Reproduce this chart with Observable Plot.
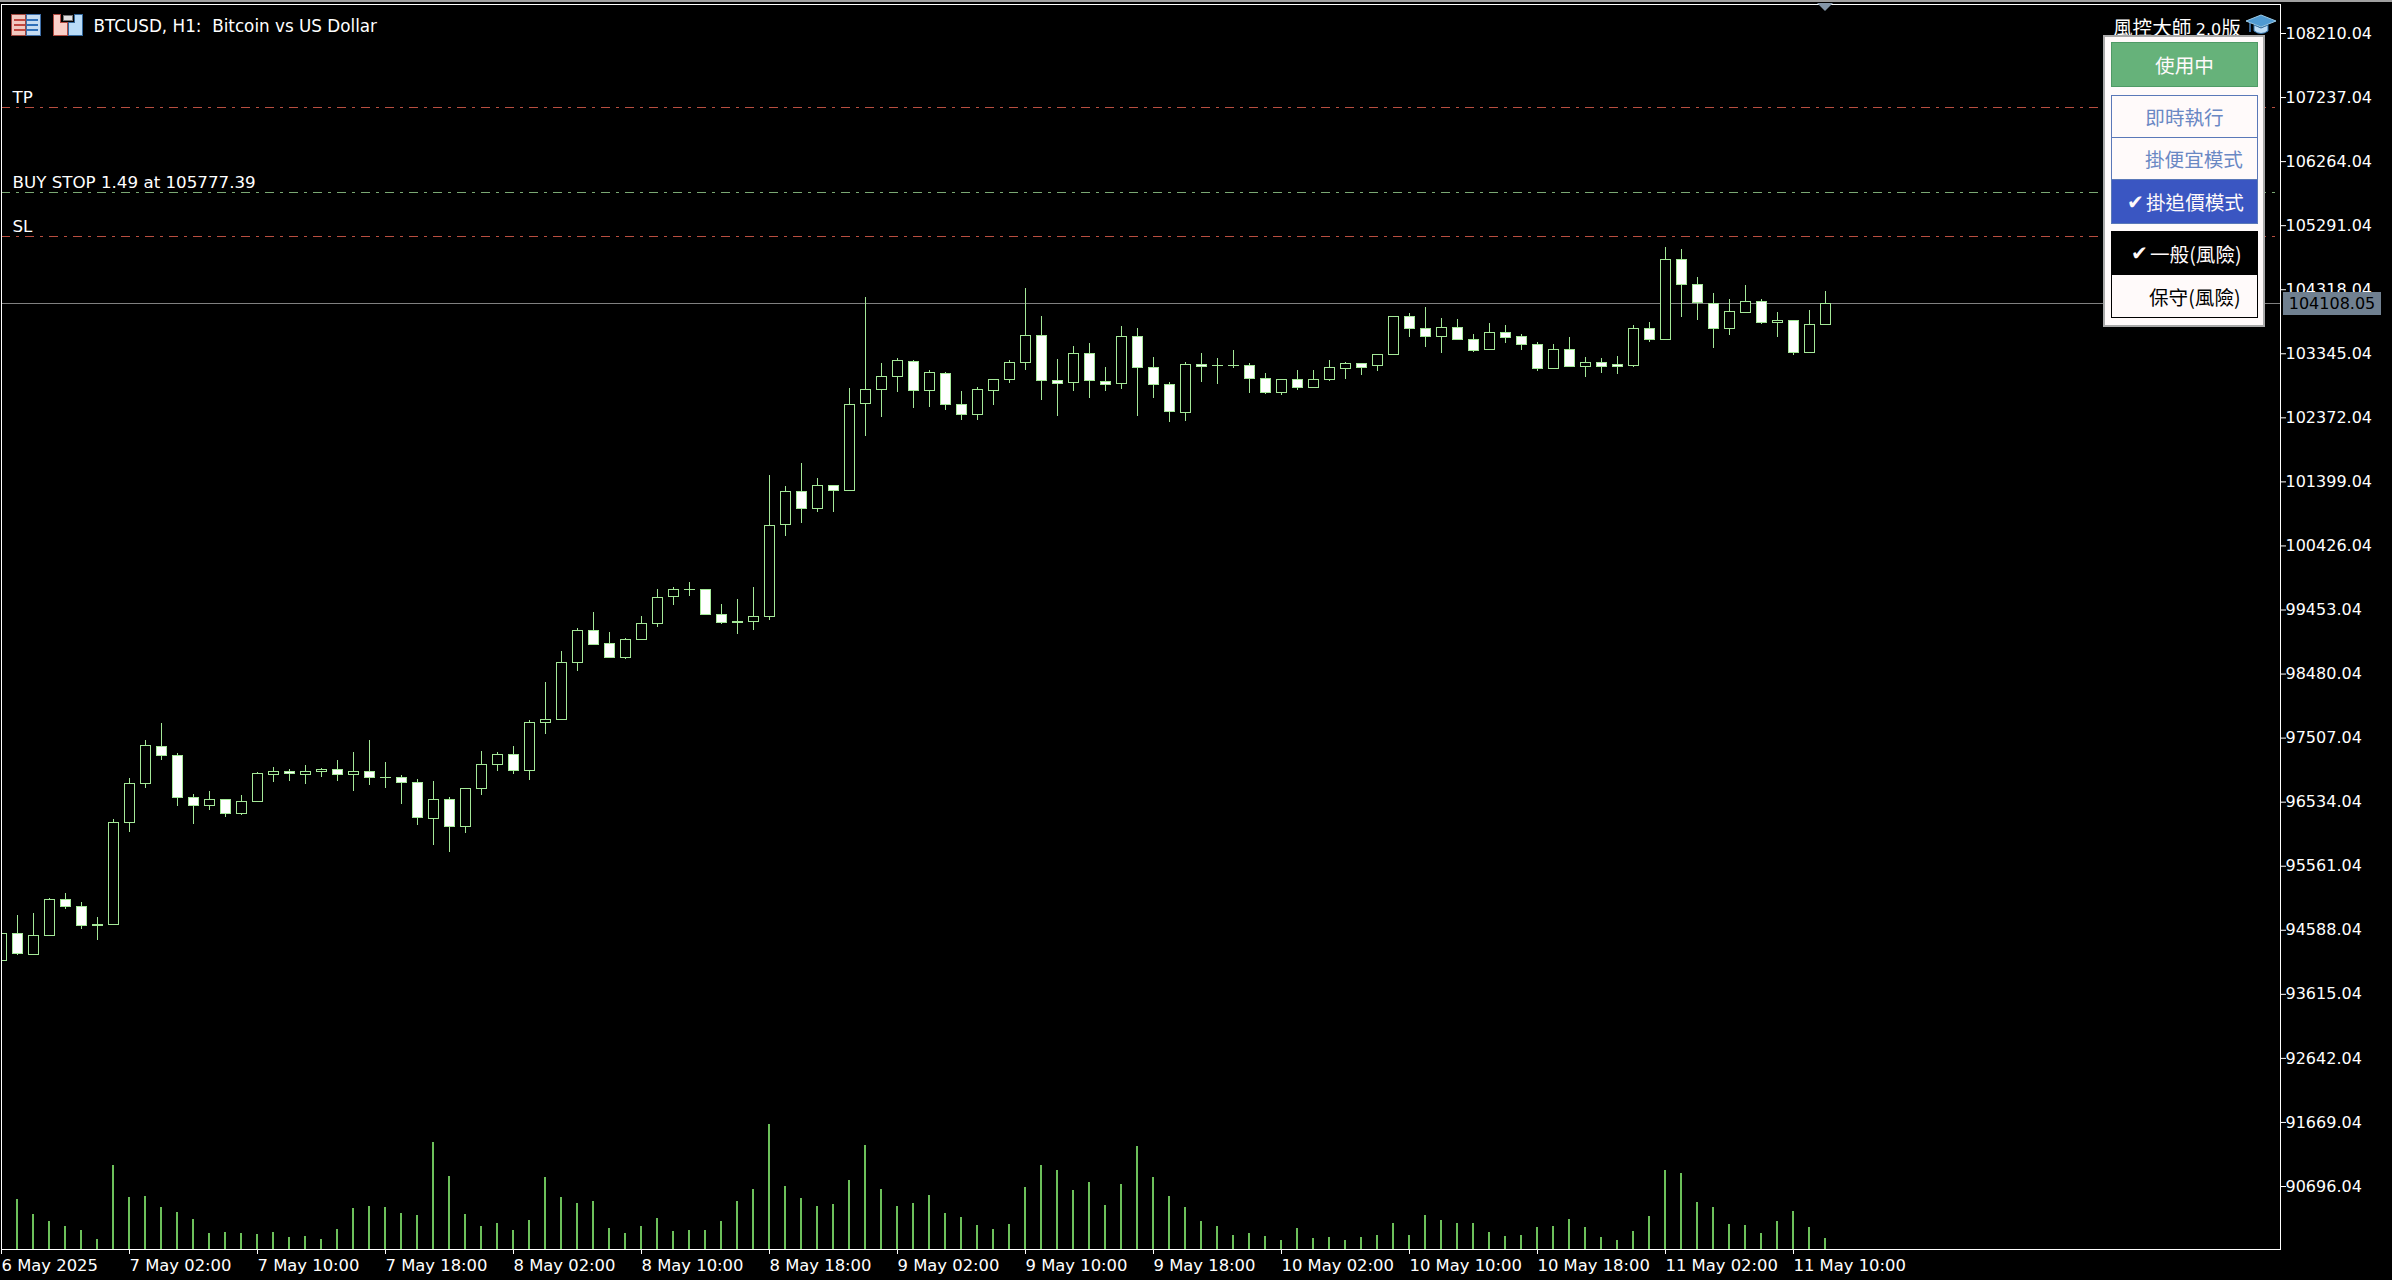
<!DOCTYPE html>
<html><head><meta charset="utf-8">
<script src="https://cdn.jsdelivr.net/npm/d3@7"></script>
<script src="https://cdn.jsdelivr.net/npm/@observablehq/plot@0.6"></script>
<style>
html,body{margin:0;padding:0;background:#000;overflow:hidden}
#root{position:relative;width:2392px;height:1280px;background:#000}
#root svg.chart{position:absolute;left:0;top:0;background:#000;color:#fff}
.ov{position:absolute;box-sizing:border-box}
.btn{position:absolute;box-sizing:border-box;font-family:"Noto Sans CJK TC","Noto Sans CJK SC",sans-serif;font-size:19.6px;display:flex;align-items:center;white-space:pre}
</style></head><body><div id="root"></div>
<script>
const open = [94130,94545,94221,94510,95061,94955,94682,94677,96226,96823,97385,97248,96610,96484,96580,96362,96545,96960,97005,96960,97000,97036,96960,97005,96913,96914,96838,96291,96580,96170,96747,97112,97263,97021,97750,97795,98655,99146,98949,98731,99005,99248,99658,99768,99769,99390,99283,99278,99354,100751,101257,100994,101348,101267,102589,102801,102999,103232,102786,103049,102579,102422,102786,102953,103211,103626,102943,102908,103353,102928,102892,103611,103140,102882,102452,103186,103170,103170,103171,102973,102756,102958,102832,102953,103120,103201,103166,103333,103915,103733,103606,103748,103566,103409,103672,103611,103490,103120,103414,103150,103216,103176,103166,103733,103561,104780,104401,104112,103728,103971,104143,103819,103854,103363,103788];
const close = [94545,94236,94515,95061,94950,94662,94662,96231,96823,97400,97243,96605,96484,96580,96362,96550,96975,97005,96975,97005,97036,96960,97005,96914,96915,96838,96307,96580,96170,96747,97112,97263,97015,97750,97795,98661,99146,98929,98731,99010,99253,99648,99769,99770,99384,99263,99268,99359,100741,101257,100994,101348,101268,102579,102806,103004,103247,102786,103064,102573,102422,102806,102958,103216,103626,102938,102892,103353,102938,102877,103611,103135,102877,102467,103186,103150,103172,103172,102968,102756,102958,102832,102958,103140,103201,103135,103338,103915,103728,103606,103748,103561,103394,103672,103591,103485,103120,103414,103150,103216,103150,103150,103733,103561,104780,104396,104122,103728,103991,104143,103819,103854,103363,103793,104108.05];
const high = [94545,94808,94849,95077,95152,95016,94788,96276,96899,97476,97724,97268,96656,96701,96580,96641,96990,97066,97036,97096,97051,97172,97294,97476,97142,96944,96884,96853,96610,96747,97309,97294,97385,97780,98357,98828,99177,99420,99116,99025,99359,99769,99800,99875,99769,99541,99617,99800,101500,101333,101683,101455,101348,102821,104203,103201,103277,103247,103095,103064,102776,102837,102958,103247,104340,103915,103262,103459,103505,103140,103763,103733,103292,102913,103216,103353,103277,103398,103201,103049,102958,103095,103095,103247,103216,103201,103338,103915,103960,104052,103885,103869,103642,103808,103778,103642,103520,103490,103596,103292,103277,103297,103778,103824,104963,104932,104507,104264,104173,104386,104173,103976,103854,104006,104294];
const low = [94130,94206,94221,94494,94904,94601,94434,94662,96074,96742,97167,96469,96195,96408,96302,96332,96545,96833,96848,96803,96909,96848,96696,96788,96742,96499,96180,95876,95770,96059,96636,97000,96955,96864,97562,97795,98519,98914,98716,98701,99005,99187,99521,99658,99384,99233,99081,99141,99293,100569,100766,100933,100933,101252,102088,102376,102756,102513,102528,102482,102330,102330,102558,102892,103090,102634,102391,102771,102665,102771,102801,102391,102665,102300,102315,102908,102877,103120,102740,102725,102710,102786,102832,102923,102953,103014,103075,103333,103591,103439,103348,103561,103363,103394,103500,103394,103075,103105,103135,102983,103044,103029,103135,103515,103545,103895,103849,103424,103621,103971,103788,103591,103318,103363,103788];
const volume = [0,151,106,85,70,58,31,253,157,160,127,112,91,49,52,49,46,52,37,40,31,61,124,130,127,109,103,322,220,106,70,79,58,88,216,156,138,144,63,48,70,93,55,58,58,85,144,180,376,189,153,129,135,207,312,180,129,138,162,108,96,72,60,75,186,252,237,177,201,132,195,309,216,159,126,84,69,42,48,39,27,63,33,36,27,36,42,78,42,102,87,78,78,51,39,42,66,69,90,66,36,27,54,99,237,228,141,126,75,72,48,84,114,66,33];
const priceTicks = [108210.04,107237.04,106264.04,105291.04,104318.04,103345.04,102372.04,101399.04,100426.04,99453.04,98480.04,97507.04,96534.04,95561.04,94588.04,93615.04,92642.04,91669.04,90696.04];
const timeLabels = ["6 May 2025","7 May 02:00","7 May 10:00","7 May 18:00","8 May 02:00","8 May 10:00","8 May 18:00","9 May 02:00","9 May 10:00","9 May 18:00","10 May 02:00","10 May 10:00","10 May 18:00","11 May 02:00","11 May 10:00"];
const levelNames = ["TP","BUY STOP 1.49 at 105777.39","SL"];
const levelPrices = [107089,105788,105130];
const levelColors = ["#b84e40","#7aa873","#b84e40"];
const lastPrice = 104108.05;
const chartTitle = "BTCUSD, H1:  Bitcoin vs US Dollar";

const FONT = "'DejaVu Sans', sans-serif";
const startHour = Date.UTC(2025,4,6,18);
const H = 3600e3;
const timeAt = k => new Date(startHour + k*H);
const bars = open.map((o,k)=>({t:timeAt(k),o,c:close[k],h:high[k],l:low[k],v:volume[k],up:close[k]>=o}));
const tickTimes = timeLabels.map((_,i)=>timeAt(i*8));

const yDomain = [priceTicks[0], priceTicks[priceTicks.length-1]];
const yRange = [33, 1186];
const pricePerPx = (yDomain[0]-yDomain[1])/(yRange[1]-yRange[0]);
const volumeBase = yDomain[0] - (1249-yRange[0])*pricePerPx;
const volPrice = v => volumeBase + v*pricePerPx/3;

const chart = Plot.plot({
  width:2392,height:1280,
  marginLeft:1,marginRight:112,marginTop:4,marginBottom:31,
  style:{background:"#000",color:"#fff",fontFamily:FONT,fontSize:"16px"},
  className:"chart",
  x:{type:"utc",domain:[timeAt(0),timeAt(142)],range:[1,1+142*16]},
  y:{domain:yDomain,range:yRange},
  marks:[
    Plot.ruleX(bars,{x:"t",y1:()=>volumeBase,y2:d=>volPrice(d.v),stroke:"#6cc05a",strokeWidth:2,dx:-0.5,clip:"frame",shapeRendering:"crispEdges"}),
    Plot.ruleY(levelPrices.map((p,i)=>({p,c:levelColors[i]})),{y:"p",stroke:"c",strokeDasharray:"9 6 3 6",clip:"frame",shapeRendering:"crispEdges"}),
    Plot.ruleY([lastPrice],{stroke:"#808080",clip:"frame",shapeRendering:"crispEdges"}),
    Plot.ruleX(bars,{x:"t",y1:"l",y2:"h",stroke:"#a4e898",clip:"frame",shapeRendering:"crispEdges"}),
    Plot.rect(bars,{x1:"t",x2:"t",y1:"o",y2:"c",insetLeft:-5,insetRight:-5,dx:0.5,dy:0.5,fill:d=>d.up?"#000":"#fff",stroke:"#a4e898",strokeWidth:1,clip:"frame",shapeRendering:"crispEdges"}),
    Plot.frame({stroke:"#fff",strokeWidth:1}),
    Plot.axisY(priceTicks,{anchor:"right",tickSize:5,tickPadding:0,tickFormat:d=>d.toFixed(2),fontSize:16,label:null,stroke:"#fff",fill:"#fff",tickRotate:0}),
    Plot.axisX(tickTimes,{anchor:"bottom",tickSize:5,tickPadding:5,tickFormat:(d,i)=>timeLabels[i],textAnchor:"start",dx:0,fontSize:16.4,label:null,stroke:"#fff",fill:"#fff"}),
    Plot.text(levelNames.map((n,i)=>({n,p:levelPrices[i]})),{x:()=>timeAt(0),y:"p",text:"n",textAnchor:"start",dx:11,dy:-10,fill:"#fff",fontSize:16.7}),
    Plot.text([chartTitle],{frameAnchor:"top-left",dx:92,dy:22,fill:"#fff",fontSize:16.8,textAnchor:"start",lineAnchor:"middle"})
  ]
});
chart.setAttribute("class",(chart.getAttribute("class")||"")+" chart");
const root = document.getElementById("root");
root.appendChild(chart);

const yS = chart.scale("y");
function el(css,html,cls){const d=document.createElement("div");d.className=cls||"ov";d.style.cssText=css;if(html)d.innerHTML=html;root.appendChild(d);return d;}
// top border
el("left:0;top:0;width:2392px;height:2px;background:#a0a0a0");
// shift marker
el("left:1817px;top:3px;width:0;height:0;border-left:8px solid transparent;border-right:8px solid transparent;border-top:8px solid #8496a8");
// price tag
el(`left:2283px;top:${Math.round(yS.apply(lastPrice))-11}px;width:98px;height:23px;background:#708090;color:#000;font:16px ${FONT};text-align:center;line-height:23px`,lastPrice.toFixed(2));
// left icons
el("left:11px;top:14px;width:30px;height:22px",`<svg width="30" height="22" shape-rendering="crispEdges"><rect x=".5" y=".5" width="14" height="21" fill="#f2c9c0" stroke="#a0473f"/><rect x="15.5" y=".5" width="14" height="21" fill="#c6dcf2" stroke="#3f6fa8"/><g fill="#c0473f"><rect x="3" y="5" width="11" height="2"/><rect x="3" y="10" width="11" height="2"/><rect x="3" y="15" width="11" height="2"/></g><g fill="#2f6fb8"><rect x="16" y="5" width="11" height="2"/><rect x="16" y="10" width="11" height="2"/><rect x="16" y="15" width="11" height="2"/></g></svg>`);
el("left:53px;top:14px;width:30px;height:22px",`<svg width="30" height="22" shape-rendering="crispEdges"><path d="M.5 .5H7.5V8.5H14.5V21.5H.5Z" fill="#fbd0c8" stroke="#b04a40"/><path d="M21.5 .5H29.5V21.5H15.5V8.5H21.5Z" fill="#b9dcf8" stroke="#33689c"/><rect x="10" y="1" width="9" height="5" fill="#e0e0e0" stroke="#777"/></svg>`);
// right header
el(`left:2113px;top:15px;color:#fff;font:19.6px 'Noto Sans CJK TC';line-height:24px;white-space:pre`,`風控大師 <span style="font:16px ${FONT}">2.0</span>版`);
el("left:2246px;top:14px;width:30px;height:22px",`<svg width="30" height="22"><path d="M4 18V9" stroke="#35618f" stroke-width="2"/><path d="M8 11V17Q15 22 22 17V11L15 14Z" fill="#bcdcf5" stroke="#2f6fa8"/><path d="M0 7L15 1L30 7L15 13Z" fill="#4f9ad2" stroke="#9ccbe8"/></svg>`);
// panel
el("left:2103px;top:35px;width:162px;height:292px;background:#fffafa;border:2px solid #a9a9a9");
function btn(x,y,w,h,bg,border,color,label,textLeft,check){
  const d=el(`left:${x}px;top:${y}px;width:${w}px;height:${h}px;background:${bg};border:1px solid ${border};color:${color};${textLeft==null?"justify-content:center;":`padding-left:${textLeft}px;`}`,label,"btn");
  if(check){const c=document.createElement("span");c.textContent="✔";c.style.cssText=`position:absolute;left:${check}px;font:20px 'DejaVu Sans';color:${color}`;d.appendChild(c);}
}
btn(2111,42,147,45,"#66b27a","#4f9a66","#fffafa","使用中");
btn(2111,95,147,43,"#fffafa","#5a78b8","#6a88c4","即時執行");
btn(2111,137,147,43,"#fffafa","#5a78b8","#6a88c4","掛便宜模式",33);
btn(2111,179,147,45,"#3a56c2","#5a78b8","#fffafa","掛追價模式",34,15);
btn(2111,231,147,44,"#000","#000","#fffafa","一般(風險)",38,19);
btn(2111,274,147,44,"#fffafa","#000","#000","保守(風險)",37);
</script></body></html>
